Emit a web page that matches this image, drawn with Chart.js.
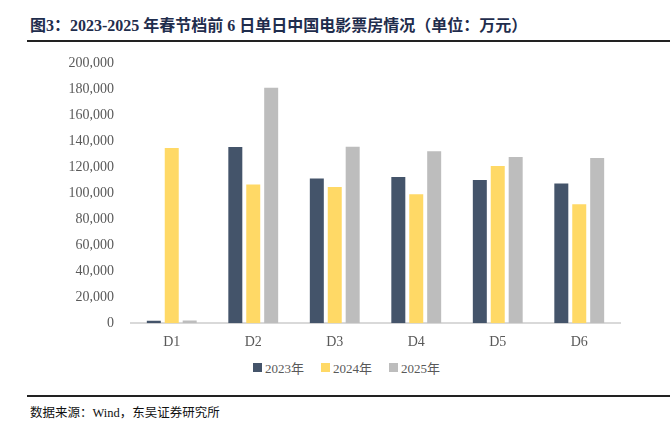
<!DOCTYPE html>
<html><head><meta charset="utf-8">
<script src="https://cdn.jsdelivr.net/npm/chart.js@4.4.1/dist/chart.umd.min.js"></script>
<style>
html,body{margin:0;padding:0;background:#fff;width:670px;height:429px;overflow:hidden;position:relative}
#title{position:absolute;left:30px;top:12px;font:bold 16px "Liberation Serif","Noto Sans CJK SC",serif;color:#1f2d4d;white-space:nowrap}
#tline{position:absolute;left:27px;right:0;top:40px;height:2px;background:#222}
#bline{position:absolute;left:27px;right:0;top:395px;height:2px;background:#222}
#foot{position:absolute;left:30px;top:402px;font:12.5px "Liberation Serif","Noto Sans CJK SC",serif;color:#111;white-space:nowrap}
#wrap{position:absolute;left:0;top:0;width:670px;height:358px}
#legend{position:absolute;left:253px;top:358px;display:flex;font:13px "Liberation Serif","Noto Sans CJK SC",serif;color:#595959;white-space:nowrap}
#legend span.item{display:flex;align-items:center;width:68px}
#legend i{display:inline-block;width:9px;height:9px;margin-right:3px}
</style></head><body>
<div id="title">图3：2023-2025 年春节档前 6 日单日中国电影票房情况（单位：万元）</div>
<div id="tline"></div>
<div id="wrap"><canvas id="c"></canvas></div>
<div id="legend"></div>
<div id="bline"></div>
<div id="foot">数据来源：Wind，东吴证券研究所</div>
<script>
const categories = ["D1","D2","D3","D4","D5","D6"];
const seriesNames = ["2023年","2024年","2025年"];
const s2023 = [1800, 135400, 111300, 112300, 110000, 107400];
const s2024 = [134600, 106700, 104600, 99200, 120800, 91500];
const s2025 = [2000, 181000, 135600, 132200, 127700, 126900];
const yTicks = [0,20000,40000,60000,80000,100000,120000,140000,160000,180000,200000];
const colors = ["#44546a","#ffd966","#bdbdbd"];
const serif = '"Liberation Serif","Noto Sans CJK SC",serif';
const chart = new Chart(document.getElementById('c'), {
  type:'bar',
  data:{labels:categories, datasets:[s2023,s2024,s2025].map((d,i)=>({
    label:seriesNames[i], data:d, backgroundColor:colors[i],
    categoryPercentage:0.66, barPercentage:0.78
  }))},
  options:{
    responsive:true, maintainAspectRatio:false, animation:false,
    layout:{padding:{left:0,right:50,top:63,bottom:4}},
    plugins:{legend:{display:false}, tooltip:{enabled:false}},
    scales:{
      x:{grid:{display:false}, border:{display:true,color:'#d9d9d9',width:2},
         ticks:{color:'#595959',font:{family:serif,size:14},padding:3}},
      y:{min:0,max:200000, grid:{display:false}, border:{display:false},
         afterFit:s=>{s.width=131},
         afterBuildTicks:s=>{s.ticks=yTicks.map(v=>({value:v}))},
         ticks:{color:'#595959',font:{family:serif,size:14},padding:9,
           callback:v=>v.toLocaleString('en-US')}}
    }
  }
});
const lg = document.getElementById('legend');
chart.data.datasets.forEach(ds=>{
  const it=document.createElement('span'); it.className='item';
  const b=document.createElement('i'); b.style.background=ds.backgroundColor;
  it.appendChild(b); it.appendChild(document.createTextNode(ds.label)); lg.appendChild(it);
});
</script>
</body></html>
